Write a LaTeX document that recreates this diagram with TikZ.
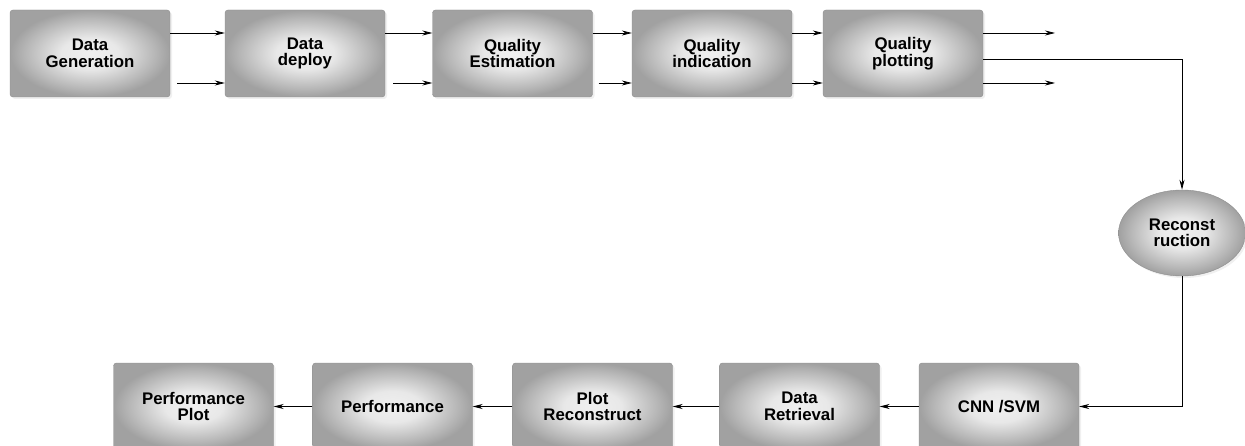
\documentclass[tikz,border=0pt]{standalone}
\usepackage{fontspec}
\setmainfont{Liberation Sans}
\usetikzlibrary{shapes.geometric,arrows.meta,shadows}
% light centre fading out to grey edges
\pgfdeclareradialshading{boxglow}{\pgfpoint{0bp}{0bp}}{color(0bp)=(black!6); color(9bp)=(black!9); color(20bp)=(black!28); color(25bp)=(black!37); color(50bp)=(black!37)}
\begin{document}
\begin{tikzpicture}[x=1pt,y=-1pt,>={Stealth[length=10pt,width=5pt]},
  blk/.style={rectangle, rounded corners=3pt, minimum width=160pt, minimum height=87pt, shading=boxglow, draw=black!45, line width=0.4pt, align=center, font=\fontsize{16.8}{16.5}\selectfont\bfseries, drop shadow={opacity=0.12, shadow xshift=2pt, shadow yshift=-2pt}},
  oval/.style={blk, ellipse, minimum width=127pt, minimum height=86pt},
  link/.style={line width=0.8pt}]
\useasboundingbox (0,0) rectangle (1245,446);

% top row
\node[blk] (gen) at (90,53.5)  {Data\\Generation};
\node[blk] (dep) at (305,53.5) {Data\\deploy};
\node[blk] (est) at (512.5,53.5) {Quality\\Estimation};
\node[blk] (ind) at (712,53.5) {Quality\\indication};
\node[blk] (plt) at (903,53.5) {Quality\\plotting};

\node[oval] (rec) at (1182,233) {Reconst\\ruction};

% bottom row
\node[blk] (cnn) at (999,406.5)   {CNN /SVM};
\node[blk] (ret) at (799.5,406.5) {Data\\Retrieval};
\node[blk] (prc) at (592.5,406.5) {Plot\\Reconstruct};
\node[blk] (prf) at (392.5,406.5) {Performance};
\node[blk] (ppl) at (193.5,406.5) {Performance\\Plot};

\coordinate (outA) at (1055,33);
\coordinate (outB) at (1055,83);

% two feeds between the top boxes
\foreach \a/\b/\g in {gen/dep/7, dep/est/8, est/ind/6, ind/plt/0}{
  \draw[link,->] ([yshift=20.5pt]\a.east) -- ([yshift=20.5pt]\b.west);
  \draw[link,->] ([yshift=-29.5pt,xshift=\g pt]\a.east) -- ([yshift=-29.5pt]\b.west);
}
\draw[link,->] ([yshift=20.5pt]plt.east) -- (outA);
\draw[link,->] ([yshift=-29.5pt]plt.east) -- (outB);

\draw[link,->] ([yshift=-5.5pt]plt.east) -| (rec.north);
\draw[link,->] (rec.south) |- (cnn.east);

\foreach \a/\b in {cnn/ret, ret/prc, prc/prf, prf/ppl}
  \draw[link,->] (\a.west) -- (\b.east);
\end{tikzpicture}
\end{document}
